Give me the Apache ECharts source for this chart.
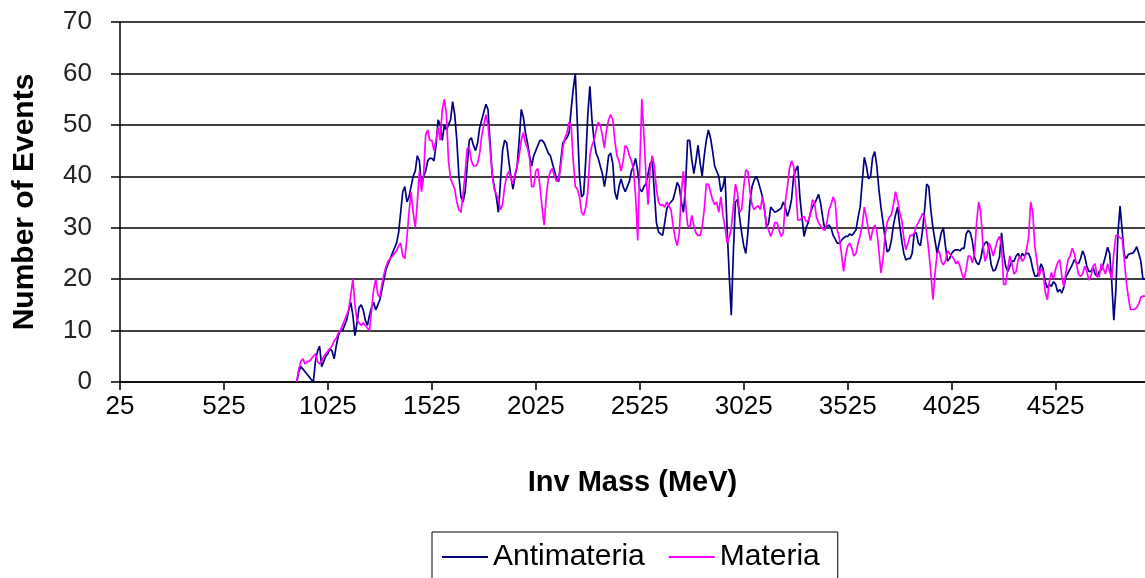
<!DOCTYPE html>
<html>
<head>
<meta charset="utf-8">
<script src="https://cdn.jsdelivr.net/npm/echarts@6/dist/echarts.min.js"></script>
<style>
  html, body { margin: 0; padding: 0; background: #fff; }
  #chart { width: 1145px; height: 578px; }
</style>
</head>
<body>
<div id="chart"></div>
<script>
// bins of 10 MeV, centred on 25, 35, ... ; data starts at 875 MeV
var firstBin = 25;
var binWidth = 10;
var binCount = 494;
var dataStart = 875;

var antimateria = [
    0,2,3,2.5,2,1.5,1,0.5,0,4,
    6,7,3,4,5,5.5,6.5,6,4.5,7,
    9,10,10,11,12,14,15.5,13,9,11.5,
    14.5,15,14,12,11,13,14.5,15.5,14,15,
    16,18,20,22,23,24,25,26,27,29,
    33,37,38,35,36,38,40,41,44,43,
    38,40,41,43,43.5,
    43.5,43,46,51,50,47,50,49,50,51,
    54.5,52,47,40,36,35,37,42,47,47.5,
    46,45,46.5,49.5,51,52.5,54,53,46.5,40.5,
    38,36,33,39,45,47,46.5,43,40,37.5,
    40,42,47,53,51.5,48.5,46.5,44,42,44,
    45,46,47,47,46.5,45.5,44.5,44,42.5,41,
    39.5,39,43,46.5,47,47.5,48.5,53,57,60,
    50,40,36,36.5,43,52,57.5,51,47,44.5,
    43.5,42,40.5,38,40.5,44,44.5,42.5,37,35.5,
    38,39.5,38,37,38,39,41,42,43.5,41,
    37.5,37,38,38.5,40.5,42.5,43,37,31,29.2,
    28.8,28.5,31,33.7,34.5,35,35.5,37,38.8,38,
    35,33,38,47,47,43.3,40.5,43,46,42.7,
    40,44,47,49,47.5,45,42,41,
    40,37,38,40,30,21,13,25,35,35.5,
    32,29,26.5,25,29,35,38,39.2,40,39,
    37.5,36,33.5,30,31,34,33.5,33,33.2,33.5,
    33.8,35,34,32.2,33.5,35.5,40,41.2,42,36,
    32,28.3,30,31,32.8,34,34.7,35.5,36.5,34.7,
    32,29.6,30.3,30.5,30,28.5,27.8,27,27,27.5,
    28,28.3,28.3,28.8,28.5,29,29.6,32,
    34,39,43.7,42,39.5,40,43.7,44.8,42,37.5,
    34,31,28,25.3,25.7,27.5,30.5,32.5,34,30.5,
    27.5,25,23.7,24,24,25,28.9,29,27,26.5,
    29.5,33.5,38.5,38,33.4,30,27.5,25,27,29,
    30,26.5,23.5,24,25,25.5,25.7,25.7,25.5,26,
    26,28.8,29.5,29,27.3,24.3,23.2,22.8,24,26.2,
    27,27.3,25.8,22.8,21.6,21.8,23,24.3,
    29,25,22.5,21.5,22.5,23.5,23.5,24.5,25,24,
    25,24.5,25,25,24,22,20.6,20.6,21.5,23,
    22,19.5,18.3,19,18.6,19.5,19,17.5,18,17.3,
    18.5,20.5,21.2,22,22.8,23.8,23.2,23,24,25.5,
    24.5,22.5,21.5,21.5,22.3,21,20.5,21.5,21.8,23,
    24.5,26.2,25,19.5,12,18,29,34.2,29.5,24.8,
    24,24.8,25,25,25.5,26.3,25,23.5,20,20
];

var materia = [
    0,2.5,4,4.5,3.5,4,4,4.5,5,5.5,
    4,3.5,4,5,5.5,6,6.5,7,8,8.5,
    9.5,10,11,12,13,14,17,20,15,12,
    11.5,11,11.5,11,10.5,10,14,18,20,17,
    16.5,19,21,22.5,23.5,24,24.5,25,25.5,26.5,
    27,24.5,24,28,33,37,33,30,35,41,
    37,40,48,49,47,
    47,45,47,49.5,47,53,55,52,43,39.5,
    38.5,37.5,35,33.5,33,36.5,40.5,45.5,45.5,43,
    42,42,42.5,44.5,48,50,52,50,45.5,40.5,
    37.5,36.5,35.5,33.5,34.5,38,40,41,39.5,38.5,
    40.5,42,44,47,48.5,46.5,45.5,43.5,38,38,
    41,41.5,38,34,30.5,36,39.5,41,41.5,40,
    39,39.5,42,45.5,47.5,48.5,50.5,50,43,38,
    37.5,36,33,32.4,34,37,44,46,47,49,
    50.5,50,48,45.5,49,51,52,51,47,44,
    43,41,43,46,45.5,44,43,41.4,36,27.5,
    42,55,48,40,34.5,41.5,44,42,37.5,35,
    34.3,34.5,34,35,34.3,33.5,30.5,28,26.5,29,
    37,41,35,30.5,30,32.4,30.5,29,28.5,28.5,
    30,33.5,38.5,38.5,37,35.5,34.5,35,
    33,36,32.5,30,27,28,30,34,38.5,36.7,
    33,33.5,38,41.2,41,37,34.5,33.5,34,34.3,
    33.5,36,33.5,30.5,29.5,28.3,29.5,31,31,29.5,
    28.3,29,35,38,41.5,43,42,38,31.5,31.5,
    32,32.2,31.2,31.3,32.5,35.4,35,32,31,30.3,
    29.8,29.5,31,33.5,34.5,36,35,29.6,28,25,
    21.5,24.5,26.4,27,26,24.5,25,27,
    28.5,30.5,34,32,29.5,27.5,29.5,30.5,29.5,25.5,
    21.2,24,28.5,31,32,32.5,34.5,37,35.4,33,
    31.5,28,25.7,27,28.5,28.5,28.9,30.3,31,31.8,
    32.8,32,29,25.5,21.2,16,21,25,25.5,23.5,
    22.8,23.5,25.5,25,24.5,24,23,23.5,22.5,21,
    20,22,24.5,24.5,23.2,25,31,35,33,27,
    23.5,24.5,27,26,24.5,26,27.5,28.3,
    26.5,19,19,22,24.5,23,21,21.5,23.8,24.5,
    23.5,24,25.8,28,35,33,26.4,23.5,20.5,22,
    21.5,17.5,16,19.5,21.3,20,22,23.2,23.8,20.5,
    18.5,21.5,23.8,24.5,26,25,23,21,20.5,21,
    22.5,21.5,19.8,20.5,22.5,23,20.5,20.5,23,22,
    21,23,21.5,20,25,28.5,28.5,28,28,24,
    19.5,16.5,14.1,14.1,14.1,14.5,15.2,16.5,16.7,16.7
];

var yTicks = [0, 10, 20, 30, 40, 50, 60, 70];

window.onload = function ()
{
    paintChart();
}

// category labels and null padding before the first bin with events
function buildCategories()
{
    var cats = [];
    for (var i = 0; i < binCount; i++) {
        cats.push(String(firstBin + i * binWidth));
    }
    return cats;
}

function padSeries(values)
{
    var out = [];
    var lead = (dataStart - firstBin) / binWidth;
    for (var i = 0; i < lead; i++) out.push(null);
    return out.concat(values);
}

function paintChart()
{
    var myChart = echarts.init(document.getElementById('chart'));
    var font = 'Liberation Sans, Arial, sans-serif';
    var option = {
        backgroundColor: '#fff',
        animation: false,
        grid: {
            left: 120,
            right: 0,
            top: 22,
            bottom: 196
        },
        legend: {
            left: 432,
            top: 532,
            padding: [10, 18, 10, 10],
            borderColor: '#000',
            borderWidth: 1,
            icon: 'rect',
            itemWidth: 46,
            itemHeight: 2,
            itemGap: 24,
            textStyle: { fontFamily: font, fontSize: 30, color: '#000' },
            data: ['Antimateria', 'Materia']
        },
        xAxis: {
            type: 'category',
            data: buildCategories(),
            boundaryGap: false,
            name: 'Inv Mass (MeV)',
            nameLocation: 'middle',
            nameGap: 86,
            nameTextStyle: { fontFamily: font, fontSize: 29, fontWeight: 'bold', color: '#000' },
            axisLine: { lineStyle: { color: '#000', width: 1.5 } },
            axisTick: { interval: 49, length: 8, lineStyle: { color: '#000', width: 1.5 } },
            axisLabel: { interval: 49, fontFamily: font, fontSize: 26, color: '#000', margin: 12 },
            splitLine: { show: false }
        },
        yAxis: {
            type: 'value',
            min: yTicks[0],
            max: yTicks[yTicks.length - 1],
            interval: 10,
            name: 'Number of Events',
            nameLocation: 'middle',
            nameGap: 80,
            nameTextStyle: { fontFamily: font, fontSize: 30, fontWeight: 'bold', color: '#000' },
            axisLine: { show: true, lineStyle: { color: '#000', width: 1.5 } },
            axisTick: { show: true, length: 9, lineStyle: { color: '#000', width: 1.5 } },
            axisLabel: { fontFamily: font, fontSize: 26, color: '#222', margin: 28 },
            splitLine: { lineStyle: { color: '#000', width: 1.5 } }
        },
        series: [
            {
                name: 'Antimateria',
                type: 'line',
                data: padSeries(antimateria),
                symbol: 'none',
                lineStyle: { color: '#000080', width: 1.7 },
                itemStyle: { color: '#000080' }
            },
            {
                name: 'Materia',
                type: 'line',
                data: padSeries(materia),
                symbol: 'none',
                lineStyle: { color: '#ff00ff', width: 1.7 },
                itemStyle: { color: '#ff00ff' }
            }
        ]
    };
    myChart.setOption(option);
}
</script>
</body>
</html>
